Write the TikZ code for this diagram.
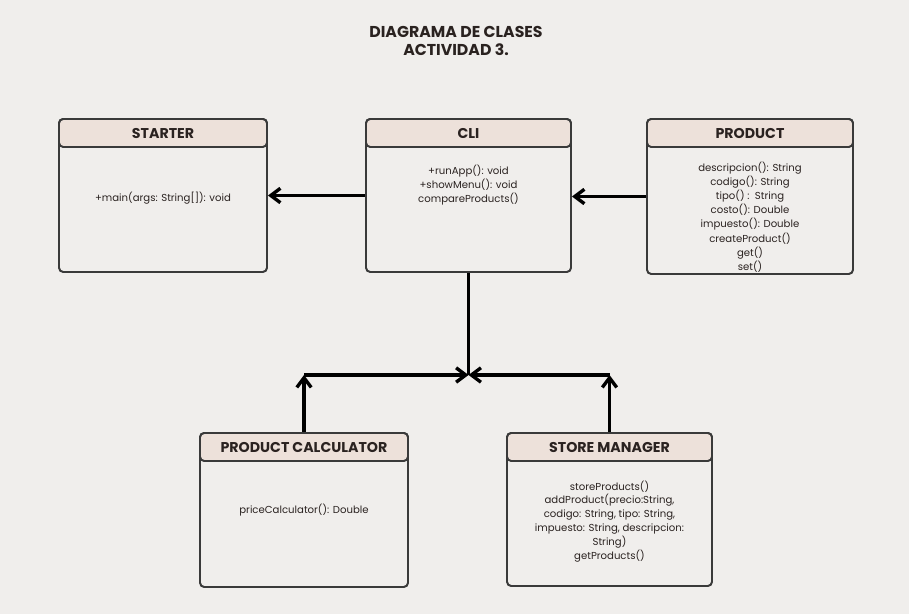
\documentclass[tikz,border=0pt]{standalone}
\usepackage{fontspec}
\setmainfont{Poppins}
\usetikzlibrary{arrows.meta}
\definecolor{paper}{HTML}{F0EEEC}
\definecolor{headfill}{HTML}{EDE1DA}
\definecolor{edge}{HTML}{3A3A3A}
\definecolor{ink}{HTML}{2A2220}
\begin{document}
\begin{tikzpicture}[
    classbox/.style 2 args={draw=edge, line width=1.4pt, rounded corners=3pt, fill=paper,
        minimum width=#1, minimum height=#2, inner sep=0pt},
    classhead/.style={draw=edge, line width=1.4pt, rounded corners=3pt, fill=headfill,
        minimum width=#1, minimum height=0.7cm, inner sep=0pt, anchor=north,
        font=\bfseries\fontsize{10.1}{12}\selectfont, text=ink},
    members/.style={align=center, font=\fontsize{7.2}{9.9}\selectfont, text=ink},
    link/.style={line width=2.4pt, black},
    arr/.style={link, -{Straight Barb[length=2.4mm,width=3.6mm]}}
]
    \fill[paper] (0,0) rectangle (22.725,15.35);
    \useasboundingbox (0,0) rectangle (22.725,15.35);
    % title
    \node[align=center, font=\bfseries\fontsize{11.2}{12.8}\selectfont, text=ink] (title) at (11.4,14.325)
        {DIAGRAMA DE CLASES\\ACTIVIDAD 3.};
    % top row
    \node[classbox={5.2cm}{3.825cm}] (starter) at (4.075,10.4625) {};
    \node[classhead=5.2cm] (starterH) at (starter.north) {STARTER};
    \node[members] (starterM) at (4.075,10.4) {+main(args: String[]): void};

    \node[classbox={5.125cm}{3.825cm}] (cli) at (11.7125,10.4625) {};
    \node[classhead=5.125cm] (cliH) at (cli.north) {CLI};
    \node[members] (cliM) at (11.7125,10.725) {+runApp(): void\\+showMenu(): void\\compareProducts()};

    \node[classbox={5.15cm}{3.875cm}] (product) at (18.75,10.4375) {};
    \node[classhead=5.15cm] (productH) at (product.north) {PRODUCT};
    \node[members, font=\fontsize{7.2}{10.1}\selectfont] (productM) at (18.75,9.925)
        {descripcion(): String\\codigo(): String\\tipo() :\ \ String\\costo(): Double\\impuesto(): Double\\createProduct()\\get()\\set()};
    % bottom row
    \node[classbox={5.2cm}{3.85cm}] (calc) at (7.6,2.6) {};
    \node[classhead=5.2cm] (calcH) at (calc.north) {PRODUCT CALCULATOR};
    \node[members] (calcM) at (7.6,2.6) {priceCalculator(): Double};

    \node[classbox={5.125cm}{3.825cm}] (store) at (15.2375,2.6125) {};
    \node[classhead=5.125cm] (storeH) at (store.north) {STORE MANAGER};
    \node[members] (storeM) at (15.2375,2.3125)
        {storeProducts()\\addProduct(precio:String,\\codigo: String, tipo: String,\\impuesto: String, descripcion:\\String)\\getProducts()};
    % connectors
    \coordinate (J) at (cli.south |- 0,5.975);
    \coordinate (calcT) at (calc.north |- J);
    \coordinate (storeT) at (store.north |- J);
    \draw[arr] (cli.west) -- (starter.east);
    \draw[arr] (product.west) -- (product.west -| cli.east);
    \draw[link] (cli.south) -- (J);
    \draw[arr] (calcH.north) -- (calcT);
    \draw[arr] (calcT) -- (J);
    \draw[arr] (storeH.north) -- (storeT);
    \draw[arr] (storeT) -- (J);
\end{tikzpicture}
\end{document}
